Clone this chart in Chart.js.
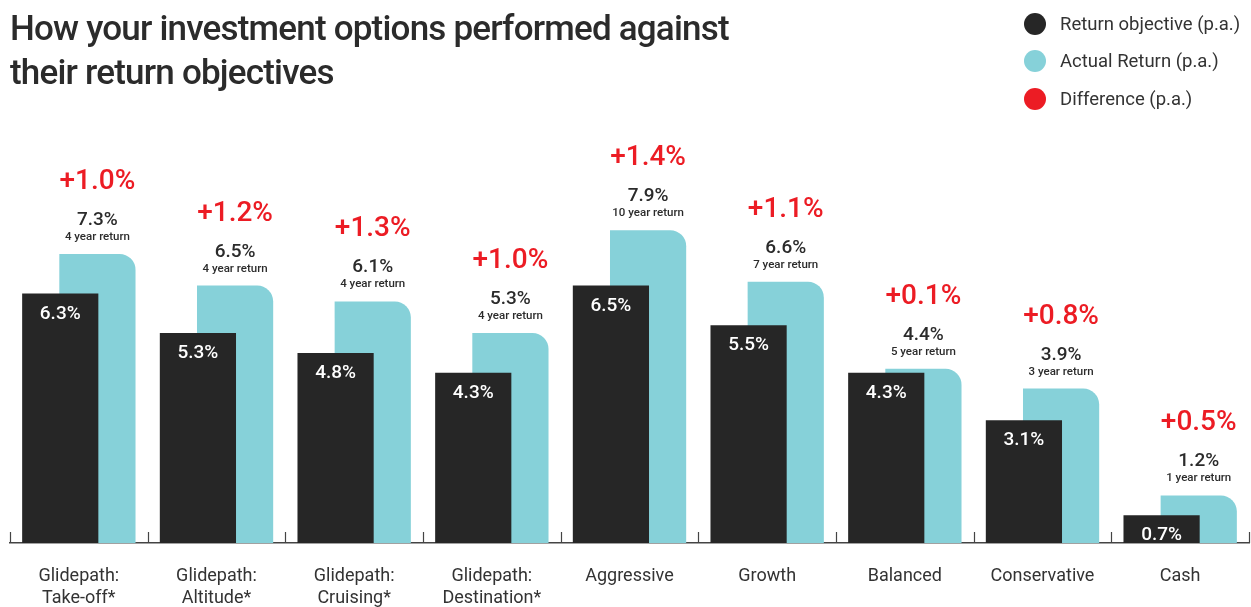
<!DOCTYPE html>
<html>
<head>
<meta charset="utf-8">
<script src="https://cdn.jsdelivr.net/npm/chart.js@4"></script>
<style>
  html, body { margin: 0; padding: 0; background: #fff; overflow: hidden; }
  #wrap { position: relative; width: 1251px; height: 607px; }
  #title {
    position: absolute; left: 10px; top: 7px; margin: 0;
    font-family: Roboto, sans-serif; font-weight: 500; font-size: 35px;
    line-height: 44px; color: #2b2b2b; letter-spacing: -0.8px;
  }
  #legend { position: absolute; left: 1024px; top: 5px; font-family: Roboto, sans-serif; font-size: 18.5px; color: #333; }
  #legend div { display: flex; align-items: center; height: 37.5px; }
  #legend span.dot { width: 22px; height: 22px; border-radius: 50%; margin-right: 14px; display: inline-block; }
</style>
</head>
<body>
<div id="wrap">
  <canvas id="returnsChart"></canvas>
  <h1 id="title">How your investment options performed against<br>their return objectives</h1>
  <div id="legend">
    <div><span class="dot" style="background:#262626"></span>Return objective (p.a.)</div>
    <div><span class="dot" style="background:#86d1d9"></span>Actual Return (p.a.)</div>
    <div><span class="dot" style="background:#ec1c24"></span>Difference (p.a.)</div>
  </div>
</div>
<script>
const categories = [
    ['Glidepath:', 'Take-off*'], ['Glidepath:', 'Altitude*'], ['Glidepath:', 'Cruising*'],
    ['Glidepath:', 'Destination*'], 'Aggressive', 'Growth', 'Balanced', 'Conservative', 'Cash'
];
const returnObjective = [6.3, 5.3, 4.8, 4.3, 6.5, 5.5, 4.3, 3.1, 0.7];
const actualReturn = [7.3, 6.5, 6.1, 5.3, 7.9, 6.6, 4.4, 3.9, 1.2];
const difference = [1.0, 1.2, 1.3, 1.0, 1.4, 1.1, 0.1, 0.8, 0.5];
const returnPeriod = ['4 year return', '4 year return', '4 year return', '4 year return',
    '10 year return', '7 year return', '5 year return', '3 year return', '1 year return'];

const DARK = '#262626', CYAN = '#86d1d9', RED = '#ec1c24';

// value labels above / inside the bars
const barLabels = {
    id: 'barLabels',
    afterDatasetsDraw(chart) {
        const ctx = chart.ctx;
        const dark = chart.getDatasetMeta(0).data;
        const cyan = chart.getDatasetMeta(1).data;
        ctx.save();
        ctx.textAlign = 'center';
        ctx.textBaseline = 'alphabetic';
        dark.forEach((bar, i) => {
            ctx.fillStyle = '#fff';
            ctx.font = '500 19px Roboto';
            ctx.fillText(returnObjective[i].toFixed(1) + '%', bar.x, bar.y + 25);
        });
        cyan.forEach((bar, i) => {
            ctx.fillStyle = '#2b2b2b';
            ctx.font = '500 11.5px Roboto';
            ctx.fillText(returnPeriod[i], bar.x, bar.y - 14);
            ctx.font = '500 19px Roboto';
            ctx.fillText(actualReturn[i].toFixed(1) + '%', bar.x, bar.y - 29);
            ctx.fillStyle = RED;
            ctx.font = '500 28px Roboto';
            ctx.fillText('+' + difference[i].toFixed(1) + '%', bar.x, bar.y - 65);
        });
        ctx.restore();
    },
    afterDraw(chart) {
        // short separators between categories, rising from the axis line
        const ctx = chart.ctx;
        const x = chart.scales.x;
        const step = x.width / categories.length;
        ctx.save();
        ctx.strokeStyle = '#444';
        ctx.lineWidth = 1.2;
        for (let i = 0; i <= categories.length; i++) {
            const px = Math.round(x.left + i * step) + 0.5;
            ctx.beginPath();
            ctx.moveTo(px, x.top - 11);
            ctx.lineTo(px, x.top);
            ctx.stroke();
        }
        ctx.restore();
    }
};

new Chart(document.getElementById('returnsChart').getContext('2d'), {
    type: 'bar',
    data: {
        labels: categories,
        datasets: [{
            label: 'Return objective (p.a.)',
            data: returnObjective,
            backgroundColor: DARK,
            categoryPercentage: 0.54,
            barPercentage: 2.05
        }, {
            label: 'Actual Return (p.a.)',
            data: actualReturn,
            backgroundColor: CYAN,
            borderRadius: { topRight: 16 },
            borderSkipped: 'start',
            categoryPercentage: 0.54,
            barPercentage: 2.05
        }]
    },
    options: {
        responsive: true,
        maintainAspectRatio: false,
        animation: false,
        layout: { padding: { top: 147, left: 10, right: 2, bottom: 0 } },
        plugins: {
            legend: { display: false },
            tooltip: { enabled: false }
        },
        scales: {
            y: { display: false, min: 0, max: 10 },
            x: {
                grid: { display: false, drawTicks: false },
                border: { display: true, color: '#444', width: 1.5 },
                ticks: {
                    color: '#333',
                    padding: 23,
                    font: { family: 'Roboto', size: 18 },
                    maxRotation: 0,
                    autoSkip: false
                },
                afterFit: scale => { scale.height = 64; }
            }
        }
    },
    plugins: [barLabels]
});
</script>
</body>
</html>
